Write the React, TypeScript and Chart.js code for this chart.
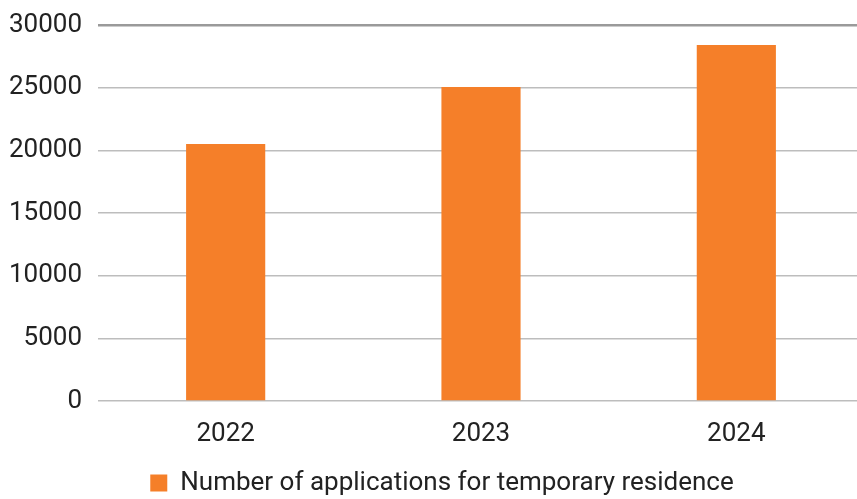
import React, { useEffect, useRef } from "react";
import { Chart, registerables } from "chart.js";

Chart.register(...registerables);

const categories = ["2022", "2023", "2024"];
const applications = [20500, 25050, 28400];
const seriesLabel = "Number of applications for temporary residence";

const legendShift = {
  id: "legendShift",
  afterLayout(chart: any) {
    const l = chart.legend;
    if (l) {
      l.left += 10;
      l.right += 10;
    }
  },
};

export default function App() {
  const ref = useRef<HTMLCanvasElement | null>(null);
  useEffect(() => {
    if (!ref.current) return;
    const chart = new Chart(ref.current, {
      type: "bar",
      data: {
        labels: categories,
        datasets: [
          {
            label: seriesLabel,
            data: applications,
            backgroundColor: "#F57F29",
            borderWidth: 0,
            categoryPercentage: 1,
            barPercentage: 0.31,
          },
        ],
      },
      plugins: [legendShift],
      options: {
        responsive: false,
        animation: false,
        layout: { padding: { top: 25, left: 0, right: 0, bottom: -7 } },
        plugins: {
          tooltip: { enabled: false },
          legend: {
            position: "bottom",
            labels: {
              boxWidth: 17,
              boxHeight: 17,
              padding: 4,
              color: "#222",
              font: { family: "Roboto", size: 26 },
            },
          },
        },
        scales: {
          x: {
            grid: { display: false, drawTicks: false },
            border: { display: false },
            ticks: {
              color: "#222",
              font: { family: "Roboto", size: 26 },
              padding: 18,
            },
            afterFit: (s: any) => {
              s.height = 65;
              s.paddingLeft = 0;
              s.paddingRight = 0;
            },
          },
          y: {
            min: 0,
            max: 30000,
            ticks: {
              stepSize: 5000,
              color: "#222",
              font: { family: "Roboto", size: 26 },
              padding: 16,
              callback: (v: any) => String(v),
            },
            grid: {
              drawTicks: false,
              color: (ctx: any) =>
                ctx.tick && ctx.tick.value === 30000 ? "#9a9a9a" : "#bdbdbd",
              lineWidth: (ctx: any) =>
                ctx.tick && ctx.tick.value === 30000 ? 2.5 : 1.5,
            },
            border: { display: false },
            afterFit: (s: any) => {
              s.width = 98;
              s.paddingTop = 0;
              s.paddingBottom = 0;
            },
          },
        },
      },
    });
    return () => chart.destroy();
  }, []);
  return (
    <div
      style={{
        position: "fixed",
        left: 0,
        top: 0,
        width: 857,
        height: 499,
        overflow: "hidden",
        background: "#fff",
      }}
    >
      <canvas ref={ref} width={864} height={499} />
    </div>
  );
}
